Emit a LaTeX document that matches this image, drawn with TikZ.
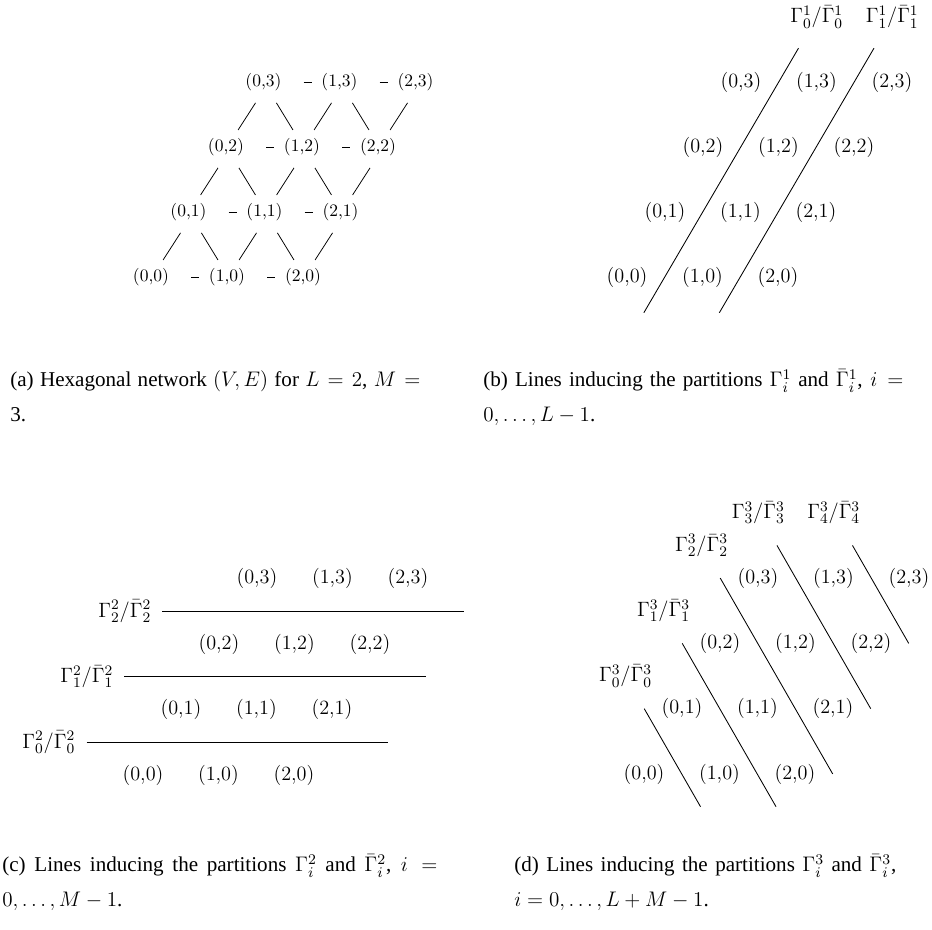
\RequirePackage{fix-cm}
\documentclass[tikz,border=0pt]{standalone}
\usepackage[no-math]{fontspec}
\newfontfamily\capfont{Liberation Serif}
\usepackage{tikz}
\tikzset{
  lattice/.style={x={(44.39pt,0pt)},y={(22.34pt,38.4pt)}},
  site small/.style={inner sep=0pt,font=\fontsize{10.3}{12}\selectfont},
  site/.style={inner sep=0pt,font=\fontsize{11.9}{14}\selectfont},
  part name/.style={inner sep=0pt,font=\fontsize{12.2}{14}\selectfont},
  link/.style={draw=black,line width=0.45pt},
  cut/.style={draw=black,line width=0.5pt},
  caption line/.style={anchor=base west,inner sep=0pt,
    font=\capfont\fontsize{12.4}{15}\selectfont}
}

\begin{document}
\begin{tikzpicture}[x=0.588pt,y=-0.588pt]
  \useasboundingbox (0,0) rectangle (932,930);
  % (a) the network
  \begin{scope}[shift={(151,277)},x={(44.69pt,0pt)},y={(22.05pt,38.22pt)}]
    \foreach \i in {0,1,2}
      \foreach \j in {0,...,3}
        \node[site small] (a-\i-\j) at (\i,\j) {(\i,\j)};
    \foreach \j in {0,...,3} {
      \draw[link,shorten <=12.8pt,shorten >=5.5pt] (a-0-\j) -- (a-1-\j);
      \draw[link,shorten <=12.8pt,shorten >=5.5pt] (a-1-\j) -- (a-2-\j);
    }
    \foreach \j in {0,1,2} {
      \pgfmathtruncatemacro\jj{\j+1}
      \foreach \i in {0,1,2}
        \draw[link] ([shift={(7.1pt,10pt)}]a-\i-\j.center)
          -- ([shift={(-4.7pt,-12.3pt)}]a-\i-\jj.center);
      \foreach \i in {0,1} {
        \pgfmathtruncatemacro\ii{\i+1}
        \draw[link] ([shift={(7.6pt,-12.3pt)}]a-\i-\jj.center)
          -- ([shift={(-5.3pt,10pt)}]a-\ii-\j.center);
      }
    }
  \end{scope}
  % (b) lines for Gamma^1
  \begin{scope}[shift={(627,277)},lattice,y={(22.34pt,38.22pt)}]
    \foreach \i in {0,1,2}
      \foreach \j in {0,...,3}
        \node[site] (b-\i-\j) at (\i,\j) {(\i,\j)};
    \foreach \k in {0,1} {
      \draw[cut] (\k+0.5,-0.55) -- (\k+0.5,3.52);
      \node[part name] (gb-\k) at (\k+0.5,4) {$\Gamma^1_\k/\bar\Gamma^1_\k$};
    }
  \end{scope}
  % (c) lines for Gamma^2
  \begin{scope}[shift={(143,775)},lattice,y={(22.34pt,38.51pt)}]
    \foreach \i in {0,1,2}
      \foreach \j in {0,...,3}
        \node[site] (c-\i-\j) at (\i,\j) {(\i,\j)};
    \foreach \k in {0,1,2} {
      \draw[cut] (-1,\k+0.5) -- (3,\k+0.5);
      \node[part name] (gc-\k) at (-1.5,\k+0.5) {$\Gamma^2_\k/\bar\Gamma^2_\k$};
    }
  \end{scope}
  % (d) lines for Gamma^3
  \begin{scope}[shift={(644,774)},lattice]
    \foreach \i in {0,1,2}
      \foreach \j in {0,...,3}
        \node[site] (d-\i-\j) at (\i,\j) {(\i,\j)};
    \foreach \k/\is/\js/\ie/\je in {0/-0.5/1/1/-0.5,1/-0.5/2/2/-0.5,
        2/-0.5/3/2.5/0,3/0/3.5/2.5/1,4/1/3.5/2.5/2} {
      \draw[cut] (\is,\js) -- (\ie,\je);
      \node[part name] (gd-\k) at (\is-0.5,\js+0.5) {$\Gamma^3_\k/\bar\Gamma^3_\k$};
    }
  \end{scope}
  % captions
  \node[caption line] (cap-a1) at (10,387)
    {\makebox[241.1pt][s]{(a) Hexagonal network $(V,E)$ for $L=2$, $M=$}};
  \node[caption line] (cap-a2) at (10,422) {3.};
  \node[caption line] (cap-b1) at (483,387)
    {\makebox[247pt][s]{(b) Lines inducing the partitions $\Gamma^1_i$ and $\bar\Gamma^1_i$, $i=$}};
  \node[caption line] (cap-b2) at (483,422) {$0,\ldots,L-1$.};
  \node[caption line] (cap-c1) at (2,872)
    {\makebox[255.8pt][s]{(c) Lines inducing the partitions $\Gamma^2_i$ and $\bar\Gamma^2_i$, $i=$}};
  \node[caption line] (cap-c2) at (2,907) {$0,\ldots,M-1$.};
  \node[caption line] (cap-d1) at (514,872)
    {\makebox[224.6pt][s]{(d) Lines inducing the partitions $\Gamma^3_i$ and $\bar\Gamma^3_i$,}};
  \node[caption line] (cap-d2) at (514,907) {$i=0,\ldots,L+M-1$.};
\end{tikzpicture}
\end{document}
